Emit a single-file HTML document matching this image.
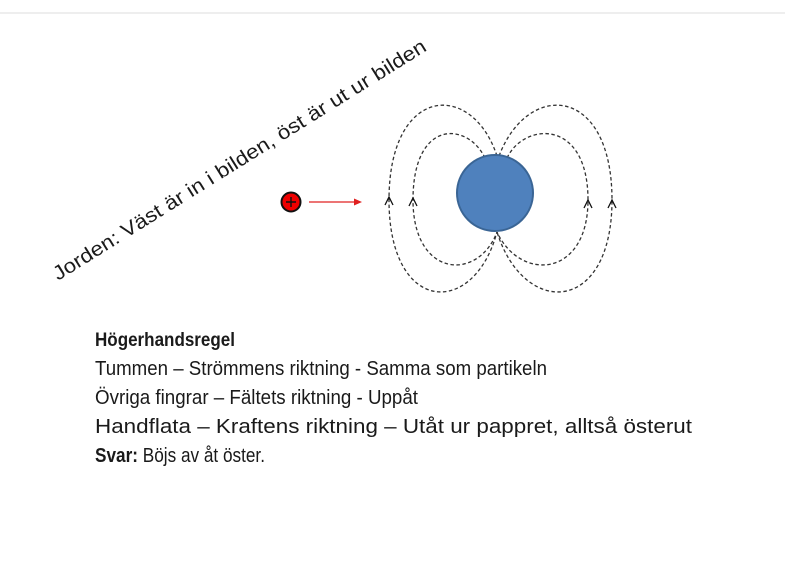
<!DOCTYPE html>
<html><head><meta charset="utf-8"><style>
html,body{margin:0;padding:0;background:#fff;}
svg{display:block;}
text{font-family:"Liberation Sans",sans-serif;fill:#1a1a1a;}
</style></head><body>
<svg width="785" height="574" viewBox="0 0 785 574">
<rect x="0" y="12" width="785" height="2" fill="#eeeeee"/>
<g fill="none" stroke="#333" stroke-width="1.3" stroke-dasharray="3.5,2.5">
<path d="M485,158 C468,122 413,118 413,200 C413,278 478,282 497,232"/>
<path d="M497,156 C472,80 389,85 389,200 C389,315 474,318 497,232"/>
<path d="M507,158 C524,122 588,118 588,200 C588,278 520,282 497,232"/>
<path d="M499,156 C528,80 612,85 612,200 C612,315 524,318 497,232"/>
</g>
<circle cx="495" cy="193" r="38" fill="#4f81bd" stroke="#3a6595" stroke-width="2"/>
<g fill="none" stroke="#111" stroke-width="1.3">
<path d="M385,205 L389,197 L393,205"/>
<path d="M409,206 L413,198 L417,206"/>
<path d="M584,208 L588,200 L592,208"/>
<path d="M608,208 L612,200 L616,208"/>
</g>
<circle cx="291" cy="202" r="9.5" fill="#ee0000" stroke="#111" stroke-width="2"/>
<path d="M286,202 H296 M291,197 V207" stroke="#111" stroke-width="1.4"/>
<line x1="309" y1="202" x2="356" y2="202" stroke="#e02020" stroke-width="1.3"/>
<path d="M362,202 L354,198.5 L354,205.5 Z" fill="#e02020"/>
<text transform="translate(58,281) rotate(-32)" font-size="20" textLength="436" lengthAdjust="spacingAndGlyphs">Jorden: Väst är in i bilden, öst är ut ur bilden</text>
<text x="95" y="346" font-size="19.5" font-weight="bold" textLength="140" lengthAdjust="spacingAndGlyphs">Högerhandsregel</text>
<text x="95" y="375" font-size="20" textLength="452" lengthAdjust="spacingAndGlyphs">Tummen – Strömmens riktning  - Samma som partikeln</text>
<text x="95" y="404" font-size="20" textLength="323" lengthAdjust="spacingAndGlyphs">Övriga fingrar – Fältets riktning  - Uppåt</text>
<text x="95" y="433" font-size="20" textLength="597" lengthAdjust="spacingAndGlyphs">Handflata – Kraftens riktning – Utåt ur pappret, alltså österut</text>
<text x="95" y="462" font-size="20" textLength="170" lengthAdjust="spacingAndGlyphs"><tspan font-weight="bold">Svar:</tspan> Böjs av åt öster.</text>
</svg>
</body></html>
